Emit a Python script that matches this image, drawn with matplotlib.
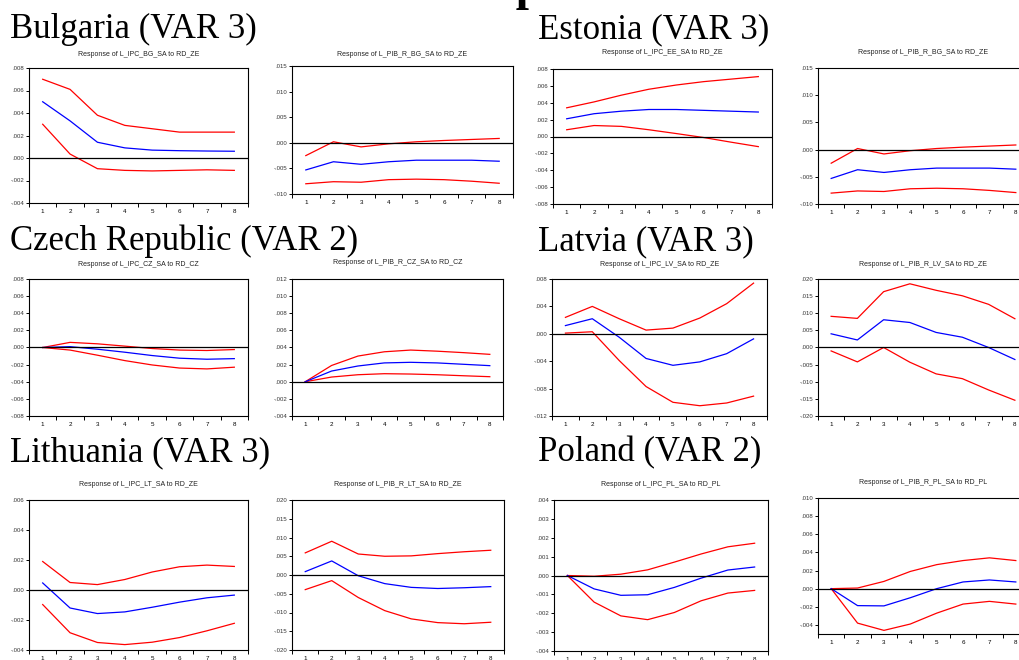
import matplotlib
matplotlib.use('Agg')
import matplotlib.pyplot as plt
import matplotlib.ticker as ticker

W, H = 1020, 660

horizon = [1, 2, 3, 4, 5, 6, 7, 8]

# Bulgaria
bg_ipc_up = [0.0070, 0.0061, 0.0038, 0.0029, 0.0026, 0.0023, 0.0023, 0.0023]
bg_ipc_mid = [0.0050, 0.0033, 0.0014, 0.0009, 0.0007, 0.00065, 0.00062, 0.0006]
bg_ipc_lo = [0.0030, 0.00035, -0.00095, -0.0011, -0.00115, -0.0011, -0.00105, -0.0011]
bg_pib_up = [-0.0025, 0.0002, -0.0008, -0.0002, 0.0002, 0.00045, 0.00065, 0.00085]
bg_pib_mid = [-0.0053, -0.0037, -0.0042, -0.0037, -0.0034, -0.0034, -0.0034, -0.0036]
bg_pib_lo = [-0.0080, -0.0076, -0.0077, -0.0072, -0.0071, -0.0072, -0.0075, -0.0079]
# Estonia
ee_ipc_up = [0.0034, 0.0041, 0.0049, 0.0056, 0.0061, 0.0065, 0.0068, 0.0071]
ee_ipc_mid = [0.0021, 0.0027, 0.0030, 0.0032, 0.0032, 0.0031, 0.0030, 0.0029]
ee_ipc_lo = [0.0008, 0.0013, 0.0012, 0.0008, 0.00035, -0.00012, -0.00067, -0.0012]
# Czech Republic
cz_ipc_up = [0.0, 0.0006, 0.00043, 0.00016, -0.00012, -0.0003, -0.00035, -0.00024]
cz_ipc_mid = [0.0, 0.0001, -0.0002, -0.00055, -0.00094, -0.00125, -0.00137, -0.0013]
cz_ipc_lo = [0.0, -0.0003, -0.0009, -0.00153, -0.00204, -0.0024, -0.0025, -0.0023]
cz_pib_up = [0.0, 0.0019, 0.0030, 0.0035, 0.0037, 0.00357, 0.0034, 0.0032]
cz_pib_mid = [0.0, 0.00125, 0.00184, 0.0022, 0.00227, 0.0022, 0.00204, 0.00188]
cz_pib_lo = [0.0, 0.00055, 0.00082, 0.00094, 0.0009, 0.00082, 0.0007, 0.00059]
# Latvia
lv_ipc_up = [0.0024, 0.0040, 0.0022, 0.00054, 0.00083, 0.0023, 0.0044, 0.0074]
lv_ipc_mid = [0.0012, 0.0022, -0.0005, -0.0036, -0.0046, -0.0041, -0.0029, -0.00074]
lv_ipc_lo = [0.0001, 0.0003, -0.0039, -0.0077, -0.0100, -0.0105, -0.0101, -0.0091]
lv_pib_up = [0.0091, 0.0085, 0.0163, 0.0186, 0.0167, 0.0151, 0.0126, 0.0084]
lv_pib_mid = [0.0040, 0.0022, 0.0081, 0.0073, 0.0044, 0.0030, 0.0, -0.0035]
lv_pib_lo = [-0.0010, -0.0042, 0.0, -0.0043, -0.0077, -0.0091, -0.0124, -0.0154]
# Lithuania
lt_ipc_up = [0.0019, 0.0005, 0.00036, 0.0007, 0.0012, 0.00155, 0.00166, 0.00157]
lt_ipc_mid = [0.00047, -0.0012, -0.00157, -0.00146, -0.00115, -0.00081, -0.00052, -0.00034]
lt_ipc_lo = [-0.00097, -0.00285, -0.0035, -0.00364, -0.00348, -0.00317, -0.00272, -0.00222]
lt_pib_up = [0.0059, 0.0090, 0.0056, 0.0050, 0.0051, 0.0057, 0.0062, 0.0066]
lt_pib_mid = [0.0009, 0.00375, -0.0002, -0.0023, -0.0033, -0.0036, -0.0034, -0.0031]
lt_pib_lo = [-0.0039, -0.0015, -0.0060, -0.0095, -0.0117, -0.0127, -0.0130, -0.0126]
# Poland
pl_ipc_up = [0.0, -0.00004, 0.00007, 0.0003, 0.00071, 0.00114, 0.00152, 0.00171]
pl_ipc_mid = [0.0, -0.00071, -0.00105, -0.00102, -0.00063, -0.00014, 0.00029, 0.00045]
pl_ipc_lo = [0.0, -0.00141, -0.00214, -0.00234, -0.00196, -0.00134, -0.00093, -0.00079]
pl_pib_up = [0.0, 0.00007, 0.0008, 0.0019, 0.00265, 0.0031, 0.0034, 0.0031]
pl_pib_mid = [0.0, -0.00187, -0.0019, -0.0010, 0.0, 0.00074, 0.00096, 0.00074]
pl_pib_lo = [0.0, -0.0038, -0.0046, -0.0039, -0.0027, -0.0017, -0.0014, -0.0017]

countries = ['Bulgaria (VAR 3)', 'Estonia (VAR 3)', 'Czech Republic (VAR 2)',
             'Latvia (VAR 3)', 'Lithuania (VAR 3)', 'Poland (VAR 2)']

# (title, upper, mid, lower, ylim, ystep, pixel box x0,x1,y0,y1, title y)
panels = [
    ('Response of L_IPC_BG_SA to RD_ZE', bg_ipc_up, bg_ipc_mid, bg_ipc_lo, (-0.004, 0.008), 0.002, (29, 248, 68, 203), 55),
    ('Response of L_PIB_R_BG_SA to RD_ZE', bg_pib_up, bg_pib_mid, bg_pib_lo, (-0.010, 0.015), 0.005, (292, 513, 66, 194), 54),
    ('Response of L_IPC_EE_SA to RD_ZE', ee_ipc_up, ee_ipc_mid, ee_ipc_lo, (-0.008, 0.008), 0.002, (553, 772, 69, 204), 53),
    ('Response of L_PIB_R_BG_SA to RD_ZE', bg_pib_up, bg_pib_mid, bg_pib_lo, (-0.010, 0.015), 0.005, (818, 1029, 68, 204), 53),
    ('Response of L_IPC_CZ_SA to RD_CZ', cz_ipc_up, cz_ipc_mid, cz_ipc_lo, (-0.008, 0.008), 0.002, (29, 248, 279, 416), 264),
    ('Response of L_PIB_R_CZ_SA to RD_CZ', cz_pib_up, cz_pib_mid, cz_pib_lo, (-0.004, 0.012), 0.002, (292, 503, 279, 416), 263),
    ('Response of L_IPC_LV_SA to RD_ZE', lv_ipc_up, lv_ipc_mid, lv_ipc_lo, (-0.012, 0.008), 0.004, (552, 767, 279, 416), 264),
    ('Response of L_PIB_R_LV_SA to RD_ZE', lv_pib_up, lv_pib_mid, lv_pib_lo, (-0.020, 0.020), 0.005, (818, 1028, 279, 416), 265),
    ('Response of L_IPC_LT_SA to RD_ZE', lt_ipc_up, lt_ipc_mid, lt_ipc_lo, (-0.004, 0.006), 0.002, (29, 248, 500, 650), 485),
    ('Response of L_PIB_R_LT_SA to RD_ZE', lt_pib_up, lt_pib_mid, lt_pib_lo, (-0.020, 0.020), 0.005, (292, 504, 500, 650), 485),
    ('Response of L_IPC_PL_SA to RD_PL', pl_ipc_up, pl_ipc_mid, pl_ipc_lo, (-0.004, 0.004), 0.001, (554, 768, 500, 651), 485),
    ('Response of L_PIB_R_PL_SA to RD_PL', pl_pib_up, pl_pib_mid, pl_pib_lo, (-0.005, 0.010), 0.002, (818, 1029, 498, 634), 483),
]

country_pos = [(10, 38), (538, 38), (10, 250), (538, 250), (10, 461), (538, 461)]


def fmt(v, pos):
    s = '%.3f' % v
    s = s.replace('0.', '.', 1)
    if s == '-.000':
        s = '.000'
    return s


fig = plt.figure(figsize=(W / 100, H / 100), dpi=100)
fig.patch.set_facecolor('white')

# heading that sits mostly above the top edge, only its lowest part shows
fig.text(458 / W, 1 - 0.5 / H, 'Impulse', family='Liberation Serif',
         fontsize=34, weight='bold', ha='left', va='baseline')

for name, (px, py) in zip(countries, country_pos):
    fig.text(px / W, 1 - py / H, name, family='Liberation Serif',
             fontsize=25, ha='left', va='baseline')

for title, up, mid, lo, ylim, ystep, box, ty in panels:
    x0, x1, y0, y1 = box
    ax = fig.add_axes([x0 / W, 1 - y1 / H, (x1 - x0) / W, (y1 - y0) / H])
    ax.plot(horizon, up, color='#ff0000', lw=0.9)
    ax.plot(horizon, lo, color='#ff0000', lw=0.9)
    ax.plot(horizon, mid, color='#0000ff', lw=0.9)
    ax.axhline(0, color='black', lw=0.9)
    ax.set_xlim(0.5, 8.5)
    ax.set_ylim(*ylim)
    ax.xaxis.set_major_locator(ticker.FixedLocator(horizon))
    ax.xaxis.set_minor_locator(ticker.MultipleLocator(1, offset=0.5))
    ax.yaxis.set_major_locator(ticker.MultipleLocator(ystep))
    ax.yaxis.set_major_formatter(ticker.FuncFormatter(fmt))
    ax.tick_params(axis='x', which='major', length=0, pad=4, labelsize=4.5)
    ax.tick_params(axis='x', which='minor', length=3, width=0.7, direction='out')
    ax.tick_params(axis='y', which='major', length=2.5, width=0.7, direction='out',
                   pad=1, labelsize=4.3, labelcolor='#333333')
    for lab in ax.get_xticklabels() + ax.get_yticklabels():
        lab.set_family('Liberation Sans')
    for sp in ax.spines.values():
        sp.set_linewidth(0.8)
    fig.text((x0 + x1) / 2 / W, 1 - ty / H, title, family='Liberation Sans',
             fontsize=5, ha='center', va='center', color='#222222')

fig.savefig('out.png', dpi=100)
